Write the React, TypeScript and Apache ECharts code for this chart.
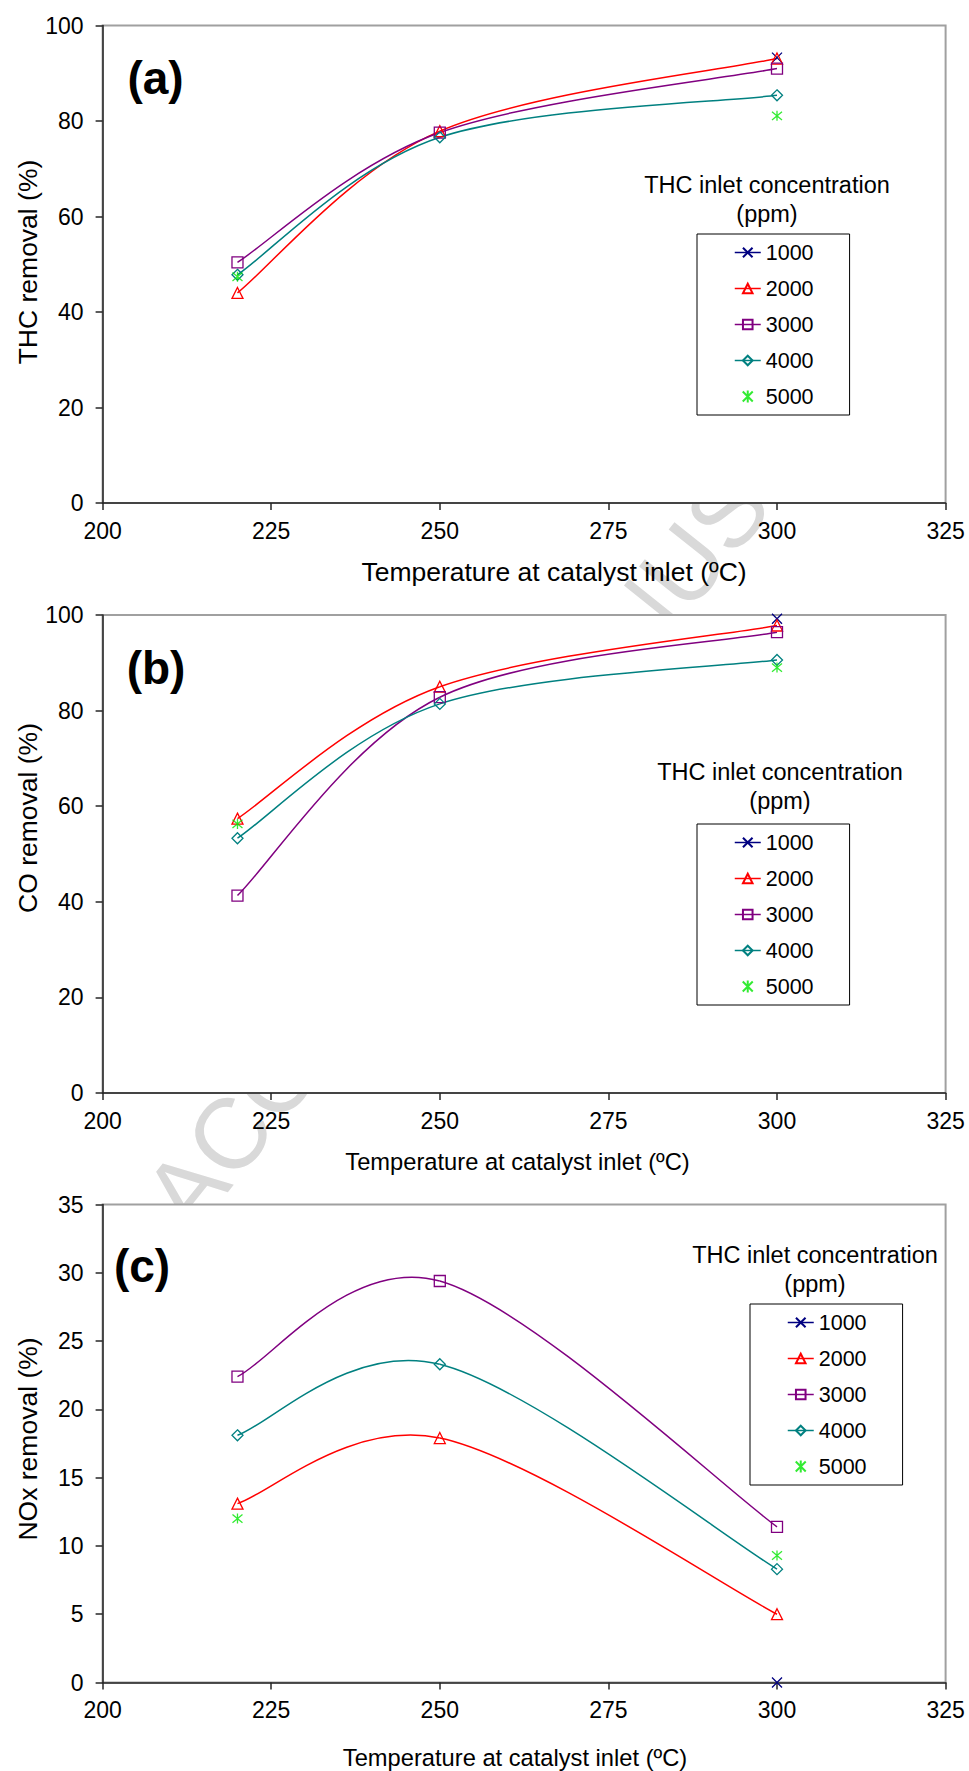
import React, { useEffect, useRef } from "react";
import * as echarts from "echarts";

// ---------- data ----------
const temperatures = [220, 250, 300];
const seriesNames = ["1000", "2000", "3000", "4000", "5000"];
const xTicks = { min: 200, max: 325, interval: 25 };

// (a) THC removal (%)
const thc1000 = [null, null, 93.3];
const thc2000 = [44.0, 77.9, 93.1];
const thc3000 = [50.4, 77.6, 91.0];
const thc4000 = [47.8, 76.6, 85.4];
const thc5000 = [47.4, null, 81.1];

// (b) CO removal (%)
const co1000 = [null, null, 99.2];
const co2000 = [57.4, 85.0, 97.8];
const co3000 = [41.3, 82.8, 96.4];
const co4000 = [53.3, 81.4, 90.6];
const co5000 = [56.3, null, 89.0];

// (c) NOx removal (%)
const nox1000 = [null, null, 0];
const nox2000 = [13.1, 17.9, 5.0];
const nox3000 = [22.4, 29.4, 11.4];
const nox4000 = [18.1, 23.3, 8.3];
const nox5000 = [12.0, null, 9.3];

const panelLabels = ["(a)", "(b)", "(c)"];
const yTitles = ["THC removal (%)", "CO removal (%)", "NOx removal (%)"];
const xTitle = "Temperature at catalyst inlet (ºC)";
const legendTitle1 = "THC inlet concentration";
const legendTitle2 = "(ppm)";
const yRanges = [
  { min: 0, max: 100, interval: 20 },
  { min: 0, max: 100, interval: 20 },
  { min: 0, max: 35, interval: 5 },
];
const panelData = [
  [thc1000, thc2000, thc3000, thc4000, thc5000],
  [co1000, co2000, co3000, co4000, co5000],
  [nox1000, nox2000, nox3000, nox4000, nox5000],
];

// ---------- styling / layout ----------
const FONT = '"Liberation Sans", Arial, sans-serif';
const colors = ["#000080", "#ff0000", "#800080", "#008080", "#00e600"];
const X_PATH = "path://M0,0L10,10M10,0L0,10";
const STAR_PATH = "path://M0,0L10,10M10,0L0,10M5,-1L5,11";
const symbols = [X_PATH, "triangle", "rect", "diamond", STAR_PATH];
const LINE_W = 1.5;

const layouts = [
  {
    grid: { left: 102.6, top: 25.6, width: 843, height: 477.4 },
    label: [155.5, 78], yTitle: [28, 262], xTitle: [554, 572], xTitleSize: 26.5,
    legTitle: [767, 185], legend: [697, 234],
  },
  {
    grid: { left: 102.6, top: 615, width: 843, height: 478 },
    label: [156, 668], yTitle: [28, 818], xTitle: [517.5, 1162], xTitleSize: 23.7,
    legTitle: [780, 772], legend: [697, 824],
  },
  {
    grid: { left: 102.6, top: 1204.5, width: 843, height: 478 },
    label: [142, 1266], yTitle: [28, 1439], xTitle: [515, 1758], xTitleSize: 23.7,
    legTitle: [815, 1255], legend: [750, 1304],
  },
];

function pairs(vals: (number | null)[]) {
  const out: number[][] = [];
  temperatures.forEach((t, i) => {
    const v = vals[i];
    if (v !== null && v !== undefined) out.push([t, v]);
  });
  return out;
}

// Excel-like smoothed line: Catmull-Rom style Bezier segments, positioned via the axes' scales
function smoothRenderer(pts: number[][], color: string) {
  return (params: any, api: any) => {
    const i = params.dataIndex;
    if (i >= pts.length - 1) return null;
    const P = pts.map((p) => api.coord(p));
    const p0 = P[i - 1] || P[i];
    const p1 = P[i];
    const p2 = P[i + 1];
    const p3 = P[i + 2] || P[i + 1];
    const cpx1 = p1[0] + (p2[0] - p0[0]) / 6;
    const cpy1 = p1[1] + (p2[1] - p0[1]) / 6;
    const cpx2 = p2[0] - (p3[0] - p1[0]) / 6;
    const cpy2 = p2[1] - (p3[1] - p1[1]) / 6;
    return {
      type: "bezierCurve",
      shape: { x1: p1[0], y1: p1[1], x2: p2[0], y2: p2[1], cpx1, cpy1, cpx2, cpy2 },
      style: { stroke: color, lineWidth: LINE_W, fill: null },
      silent: true,
    };
  };
}

export default function App() {
  const ref = useRef<HTMLDivElement>(null);

  useEffect(() => {
    if (!ref.current) return;
    const chart = echarts.init(ref.current, undefined, { renderer: "svg" });

    const axisColor = "#262626";
    const grids = layouts.map((l) => ({
      ...l.grid,
      show: true,
      backgroundColor: "#ffffff",
      borderColor: "#a0a0a0",
      borderWidth: 2,
      containLabel: false,
    }));

    const xAxes = layouts.map((_, i) => ({
      type: "value",
      gridIndex: i,
      min: xTicks.min,
      max: xTicks.max,
      interval: xTicks.interval,
      axisLine: { show: true, onZero: false, lineStyle: { color: axisColor, width: 1.5 } },
      axisTick: { show: true, length: 7, lineStyle: { color: axisColor, width: 1.5 } },
      axisLabel: { fontSize: 23, color: "#000", margin: 16, fontFamily: FONT },
      splitLine: { show: false },
    }));

    const yAxes = layouts.map((_, i) => ({
      type: "value",
      gridIndex: i,
      min: yRanges[i].min,
      max: yRanges[i].max,
      interval: yRanges[i].interval,
      axisLine: { show: true, onZero: false, lineStyle: { color: axisColor, width: 1.5 } },
      axisTick: { show: true, length: 7, lineStyle: { color: axisColor, width: 1.5 } },
      axisLabel: { fontSize: 23, color: "#000", margin: 19, fontFamily: FONT },
      splitLine: { show: false },
    }));

    const series: any[] = [];
    panelData.forEach((group, p) => {
      group.forEach((vals, k) => {
        const data = pairs(vals);
        const base: any = {
          name: seriesNames[k],
          xAxisIndex: p,
          yAxisIndex: p,
          data,
          symbol: symbols[k],
          symbolSize: k === 0 || k === 4 ? 10 : 11,
          itemStyle: { color: "rgba(0,0,0,0)", borderColor: colors[k], borderWidth: 1.3 },
          emphasis: { disabled: true },
          z: 4,
        };
        if (k === 4) {
          series.push({ ...base, type: "scatter" });
        } else {
          series.push({
            ...base,
            type: "line",
            showAllSymbol: true,
            lineStyle: { color: colors[k], width: LINE_W, opacity: 0 },
          });
          if (data.length > 1) {
            series.push({
              type: "custom",
              name: `curve-${p}-${k}`,
              coordinateSystem: "cartesian2d",
              xAxisIndex: p,
              yAxisIndex: p,
              data,
              encode: { x: 0, y: 1 },
              renderItem: smoothRenderer(data, colors[k]),
              z: 3,
              silent: true,
            });
          }
        }
      });
    });

    const legendData = seriesNames.map((n, k) =>
      k === 4
        ? { name: n }
        : { name: n, lineStyle: { color: colors[k], width: LINE_W, opacity: 1 } }
    );

    const legends = layouts.map((l) => ({
      orient: "vertical",
      left: l.legend[0],
      top: l.legend[1],
      data: legendData,
      selectedMode: false,
      borderColor: "#000",
      borderWidth: 1,
      padding: [7.5, 36, 7.5, 37],
      itemWidth: 26,
      itemHeight: 12,
      itemGap: 14,
      textStyle: { fontSize: 21.5, fontFamily: FONT, color: "#000", lineHeight: 21 },
    }));

    const graphics: any[] = [
      {
        type: "text",
        x: 165,
        y: 1215,
        rotation: (51.4 * Math.PI) / 180,
        z: -10,
        silent: true,
        style: {
          text: "ACCEPTED MANUSCRIPT",
          fontSize: 100,
          fontFamily: FONT,
          fill: "#d9d9d9",
          align: "left",
          verticalAlign: "middle",
        },
      },
    ];
    layouts.forEach((l, i) => {
      graphics.push({
        type: "text", x: l.label[0], y: l.label[1], z: 10,
        style: { text: panelLabels[i], fontSize: 46, fontWeight: "bold", fontFamily: FONT, fill: "#000", align: "center", verticalAlign: "middle" },
      });
      graphics.push({
        type: "text", x: l.yTitle[0], y: l.yTitle[1], rotation: Math.PI / 2, z: 10,
        style: { text: yTitles[i], fontSize: 26.5, fontFamily: FONT, fill: "#000", align: "center", verticalAlign: "middle" },
      });
      graphics.push({
        type: "text", x: l.xTitle[0], y: l.xTitle[1], z: 10,
        style: { text: xTitle, fontSize: l.xTitleSize, fontFamily: FONT, fill: "#000", align: "center", verticalAlign: "middle" },
      });
      graphics.push({
        type: "text", x: l.legTitle[0], y: l.legTitle[1], z: 10,
        style: { text: legendTitle1, fontSize: 23.5, fontFamily: FONT, fill: "#000", align: "center", verticalAlign: "middle" },
      });
      graphics.push({
        type: "text", x: l.legTitle[0], y: l.legTitle[1] + 28.5, z: 10,
        style: { text: legendTitle2, fontSize: 23.5, fontFamily: FONT, fill: "#000", align: "center", verticalAlign: "middle" },
      });
    });

    chart.setOption({
      animation: false,
      backgroundColor: "#ffffff",
      grid: grids,
      xAxis: xAxes,
      yAxis: yAxes,
      legend: legends,
      series,
      graphic: { elements: graphics },
    });

    return () => chart.dispose();
  }, []);

  return (
    <div
      ref={ref}
      style={{ position: "absolute", left: 0, top: 0, width: 969, height: 1771, background: "#fff" }}
    />
  );
}
